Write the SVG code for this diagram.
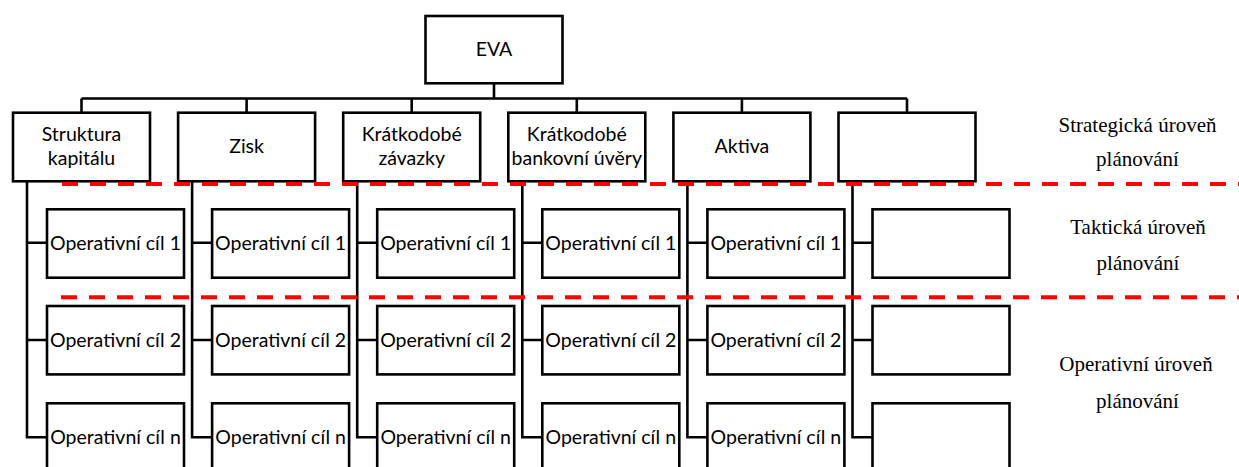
<svg xmlns="http://www.w3.org/2000/svg" width="1239" height="467" viewBox="0 0 1239 467">
  <style>
    .box { fill: #ffffff; stroke: #000000; stroke-width: 2.6; }
    .link { fill: none; stroke: #000000; stroke-width: 2.6; }
    .lbl { font-family: Lato, "Open Sans", sans-serif; font-size: 19.5px; fill: #000000; text-anchor: middle; }
    .lvl { font-family: "Liberation Serif", "Times New Roman", serif; font-size: 21px; fill: #000000; text-anchor: middle; }
    .sep { fill: none; stroke: #ff0000; stroke-width: 4; stroke-dasharray: 16 12; }
  </style>
  <rect width="1239" height="467" fill="#ffffff"/>

  <!-- connectors -->
  <g id="connectors">
    <path class="link" d="M494 83.3 V98.5 M81.5 98.5 H907"/>
    <path class="link" d="M81.5 98.5 V112.7 M246.6 98.5 V112.7 M411.7 98.5 V112.7 M576.8 98.5 V112.7 M741.9 98.5 V112.7 M907 98.5 V112.7"/>
    <!-- column spines with branches to the goal boxes -->
    <path class="link" d="M27 181.3 V437.3 H47 M27 242.7 H47 M27 340 H47"/>
    <path class="link" d="M192.1 181.3 V437.3 H212.1 M192.1 242.7 H212.1 M192.1 340 H212.1"/>
    <path class="link" d="M357.2 181.3 V437.3 H377.2 M357.2 242.7 H377.2 M357.2 340 H377.2"/>
    <path class="link" d="M522.3 181.3 V437.3 H542.3 M522.3 242.7 H542.3 M522.3 340 H542.3"/>
    <path class="link" d="M687.4 181.3 V437.3 H707.4 M687.4 242.7 H707.4 M687.4 340 H707.4"/>
    <path class="link" d="M852.5 181.3 V437.3 H872.5 M852.5 242.7 H872.5 M852.5 340 H872.5"/>
  </g>

  <!-- root -->
  <g id="eva">
    <rect class="box" x="425.5" y="16" width="137" height="67.3"/>
    <text class="lbl" x="494" y="56">EVA</text>
  </g>

  <!-- strategic level -->
  <g id="struktura-kapitalu">
    <rect class="box" x="13" y="112.7" width="137" height="68.6"/>
    <text class="lbl" x="81.5" y="141">Struktura</text>
    <text class="lbl" x="81.5" y="165">kapitálu</text>
  </g>
  <g id="zisk">
    <rect class="box" x="178.1" y="112.7" width="137" height="68.6"/>
    <text class="lbl" x="246.6" y="153">Zisk</text>
  </g>
  <g id="kratkodobe-zavazky">
    <rect class="box" x="343.2" y="112.7" width="137" height="68.6"/>
    <text class="lbl" x="411.7" y="141">Krátkodobé</text>
    <text class="lbl" x="411.7" y="165">závazky</text>
  </g>
  <g id="kratkodobe-uvery">
    <rect class="box" x="508.3" y="112.7" width="137" height="68.6"/>
    <text class="lbl" x="576.8" y="141">Krátkodobé</text>
    <text class="lbl" x="576.8" y="165">bankovní úvěry</text>
  </g>
  <g id="aktiva">
    <rect class="box" x="673.4" y="112.7" width="137" height="68.6"/>
    <text class="lbl" x="741.9" y="153">Aktiva</text>
  </g>
  <g id="prazdny">
    <rect class="box" x="838.5" y="112.7" width="137" height="68.6"/>
  </g>

  <!-- operational goals, column 1 -->
  <g id="c1-cil1"><rect class="box" x="47" y="209.3" width="137" height="68.4"/><text class="lbl" x="115.5" y="249.5">Operativní cíl 1</text></g>
  <g id="c1-cil2"><rect class="box" x="47" y="306" width="137" height="68.4"/><text class="lbl" x="115.5" y="346.5">Operativní cíl 2</text></g>
  <g id="c1-ciln"><rect class="box" x="47" y="403.3" width="137" height="68.4"/><text class="lbl" x="115.5" y="443.5">Operativní cíl n</text></g>

  <!-- column 2 -->
  <g id="c2-cil1"><rect class="box" x="212.1" y="209.3" width="137" height="68.4"/><text class="lbl" x="280.6" y="249.5">Operativní cíl 1</text></g>
  <g id="c2-cil2"><rect class="box" x="212.1" y="306" width="137" height="68.4"/><text class="lbl" x="280.6" y="346.5">Operativní cíl 2</text></g>
  <g id="c2-ciln"><rect class="box" x="212.1" y="403.3" width="137" height="68.4"/><text class="lbl" x="280.6" y="443.5">Operativní cíl n</text></g>

  <!-- column 3 -->
  <g id="c3-cil1"><rect class="box" x="377.2" y="209.3" width="137" height="68.4"/><text class="lbl" x="445.7" y="249.5">Operativní cíl 1</text></g>
  <g id="c3-cil2"><rect class="box" x="377.2" y="306" width="137" height="68.4"/><text class="lbl" x="445.7" y="346.5">Operativní cíl 2</text></g>
  <g id="c3-ciln"><rect class="box" x="377.2" y="403.3" width="137" height="68.4"/><text class="lbl" x="445.7" y="443.5">Operativní cíl n</text></g>

  <!-- column 4 -->
  <g id="c4-cil1"><rect class="box" x="542.3" y="209.3" width="137" height="68.4"/><text class="lbl" x="610.8" y="249.5">Operativní cíl 1</text></g>
  <g id="c4-cil2"><rect class="box" x="542.3" y="306" width="137" height="68.4"/><text class="lbl" x="610.8" y="346.5">Operativní cíl 2</text></g>
  <g id="c4-ciln"><rect class="box" x="542.3" y="403.3" width="137" height="68.4"/><text class="lbl" x="610.8" y="443.5">Operativní cíl n</text></g>

  <!-- column 5 -->
  <g id="c5-cil1"><rect class="box" x="707.4" y="209.3" width="137" height="68.4"/><text class="lbl" x="775.9" y="249.5">Operativní cíl 1</text></g>
  <g id="c5-cil2"><rect class="box" x="707.4" y="306" width="137" height="68.4"/><text class="lbl" x="775.9" y="346.5">Operativní cíl 2</text></g>
  <g id="c5-ciln"><rect class="box" x="707.4" y="403.3" width="137" height="68.4"/><text class="lbl" x="775.9" y="443.5">Operativní cíl n</text></g>

  <!-- column 6 (empty) -->
  <g id="c6-cil1"><rect class="box" x="872.5" y="209.3" width="137" height="68.4"/></g>
  <g id="c6-cil2"><rect class="box" x="872.5" y="306" width="137" height="68.4"/></g>
  <g id="c6-ciln"><rect class="box" x="872.5" y="403.3" width="137" height="68.4"/></g>

  <!-- planning level separators -->
  <g id="separators">
    <line class="sep" x1="62" y1="184" x2="1239" y2="184"/>
    <line class="sep" x1="61" y1="297.3" x2="1239" y2="297.3"/>
  </g>

  <!-- planning level captions -->
  <g id="levels">
    <text class="lvl" x="1137.5" y="131.7">Strategická úroveň</text>
    <text class="lvl" x="1137.5" y="166">plánování</text>
    <text class="lvl" x="1138" y="233.5">Taktická úroveň</text>
    <text class="lvl" x="1138" y="270">plánování</text>
    <text class="lvl" x="1136" y="371">Operativní úroveň</text>
    <text class="lvl" x="1137.5" y="408">plánování</text>
  </g>
</svg>
